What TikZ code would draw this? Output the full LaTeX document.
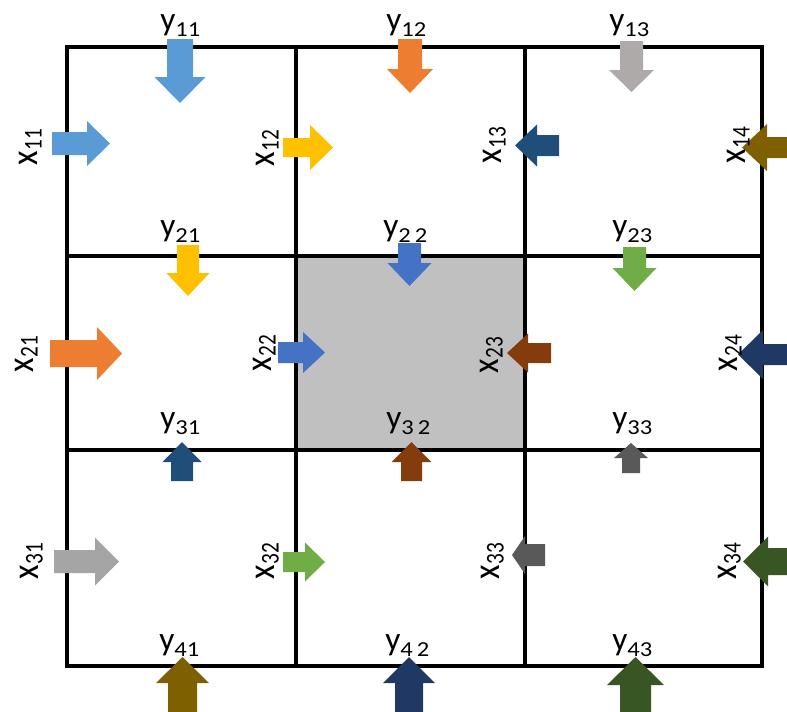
\documentclass[tikz,border=0pt]{standalone}
\usepackage{fontspec}
\setmainfont{Carlito}

\definecolor{accblue}{HTML}{5B9BD5}
\definecolor{accorange}{HTML}{ED7D31}
\definecolor{accgray}{HTML}{A5A5A5}
\definecolor{lightgray}{HTML}{AEAAAA}
\definecolor{accgold}{HTML}{FFC000}
\definecolor{accroyal}{HTML}{4472C4}
\definecolor{accgreen}{HTML}{70AD47}
\definecolor{darkblue}{HTML}{1F4E79}
\definecolor{darkbrown}{HTML}{843C0C}
\definecolor{darkgold}{HTML}{7F6000}
\definecolor{navy}{HTML}{203864}
\definecolor{darkgreen}{HTML}{375623}
\definecolor{darkgray}{HTML}{595959}
\definecolor{cellgray}{HTML}{C0C0C0}

% labels: letter with a lowered index
\newcommand{\ylbl}[1]{{\fontsize{25}{25}\selectfont y}\raisebox{-4.5pt}{\scalebox{1.15}[1]{\fontsize{16}{16}\selectfont #1}}}
\newcommand{\xlbl}[1]{\scalebox{1}[1.15]{\fontsize{25}{25}\selectfont x}\raisebox{-3.5pt}{\scalebox{1}[1.2]{\fontsize{16}{16}\selectfont #1}}}
% block arrow: colour, tail, direction, length, half shaft, half head, head length
\newcommand{\flowarrow}[7]{%
  \fill[#1, shift={#2}, rotate=#3] (0,-#5) -- ({#4-#7},-#5) -- ({#4-#7},-#6) -- (#4,0)
    -- ({#4-#7},#6) -- ({#4-#7},#5) -- (0,#5) -- cycle;}

\begin{document}
\begin{tikzpicture}[x=0.75pt, y=-0.75pt,
    grid/.style={line width=3.4pt},
    ylab/.style={anchor=base west, inner sep=0pt},
    xlab/.style={rotate=90, anchor=base, inner sep=0pt}
  ]
  \useasboundingbox (0,0) rectangle (787,711);

  % middle cell
  \fill[cellgray] (296,256) rectangle (525,450);

  % grid
  \draw[grid] (67,47) rectangle (762,666);
  \draw[grid] (296,47) -- (296,666);
  \draw[grid] (525,47) -- (525,666);
  \draw[grid] (67,256) -- (762,256);
  \draw[grid] (67,450) -- (762,450);

  % row 1
  \flowarrow{accblue}{(180,39)}{-90}{64}{13}{25.5}{26}
  \flowarrow{accblue}{(52,143.5)}{0}{58}{11.5}{22.5}{23}
  \flowarrow{accorange}{(410,39)}{-90}{54}{12}{23}{24}
  \flowarrow{accgold}{(283,147.5)}{0}{50}{9.5}{22.5}{23}
  \flowarrow{darkblue}{(559,145.5)}{180}{44}{10.5}{21}{22}
  \flowarrow{lightgray}{(631.5,41)}{-90}{51}{11.5}{22.5}{22}
  \flowarrow{darkgold}{(790,147.5)}{180}{48}{10.5}{23.5}{25}

  % row 2
  \flowarrow{accgold}{(188,245)}{-90}{51}{11}{21.5}{23}
  \flowarrow{accorange}{(50,353.5)}{0}{72}{13.5}{26.5}{25}
  \flowarrow{accroyal}{(278,352.5)}{0}{47}{10.5}{20.5}{22}
  \flowarrow{accroyal}{(409.5,243)}{-90}{43}{11.5}{22}{23}
  \flowarrow{darkbrown}{(551,353)}{180}{44}{10}{19.5}{21}
  \flowarrow{accgreen}{(634.5,247)}{-90}{44}{11.5}{22}{23}
  \flowarrow{navy}{(790,354.5)}{180}{52}{10.5}{24.5}{25}

  % row 3
  \flowarrow{darkblue}{(182,481)}{90}{39}{11}{19.5}{20}
  \flowarrow{darkbrown}{(411.5,481)}{90}{39}{10.5}{20}{20}
  \flowarrow{darkgray}{(631,473)}{90}{30}{9}{17}{15}
  \flowarrow{accgray}{(54,561.5)}{0}{65}{11.5}{24}{24}
  \flowarrow{accgreen}{(283,562)}{0}{42}{10}{19.5}{20}
  \flowarrow{darkgray}{(545,555)}{180}{33}{11}{19}{13}
  \flowarrow{darkgreen}{(790,561.5)}{180}{47}{13.5}{25}{25}

  % row 4
  \flowarrow{darkgold}{(182.5,712)}{90}{55}{14.5}{26.5}{26}
  \flowarrow{navy}{(409,712)}{90}{55}{14}{26}{26}
  \flowarrow{darkgreen}{(635.5,714)}{90}{57}{15.5}{28.5}{28}

  % y labels
  \node[ylab] (y11) at (160,30) {\ylbl{11}};
  \node[ylab] (y12) at (386,30) {\ylbl{12}};
  \node[ylab] (y13) at (609,30) {\ylbl{13}};
  \node[ylab] (y21) at (160,236) {\ylbl{21}};
  \node[ylab] (y22) at (383,236) {\ylbl{2\,2}};
  \node[ylab] (y23) at (612,236) {\ylbl{23}};
  \node[ylab] (y31) at (160,428) {\ylbl{31}};
  \node[ylab] (y32) at (386,428) {\ylbl{3\,2}};
  \node[ylab] (y33) at (612,428) {\ylbl{33}};
  \node[ylab] (y41) at (159,650) {\ylbl{41}};
  \node[ylab] (y42) at (385,650) {\ylbl{4\,2}};
  \node[ylab] (y43) at (612,650) {\ylbl{43}};

  % x labels
  \node[xlab] (x11) at (37,147) {\xlbl{11}};
  \node[xlab] (x12) at (274,148) {\xlbl{12}};
  \node[xlab] (x13) at (501,145) {\xlbl{13}};
  \node[xlab] (x14) at (745,145) {\xlbl{14}};
  \node[xlab] (x21) at (33,354) {\xlbl{21}};
  \node[xlab] (x22) at (271,353) {\xlbl{22}};
  \node[xlab] (x23) at (498,355) {\xlbl{23}};
  \node[xlab] (x24) at (737,353) {\xlbl{24}};
  \node[xlab] (x31) at (38,561) {\xlbl{31}};
  \node[xlab] (x32) at (274,561) {\xlbl{32}};
  \node[xlab] (x33) at (499,561) {\xlbl{33}};
  \node[xlab] (x34) at (736,561) {\xlbl{34}};
\end{tikzpicture}
\end{document}
